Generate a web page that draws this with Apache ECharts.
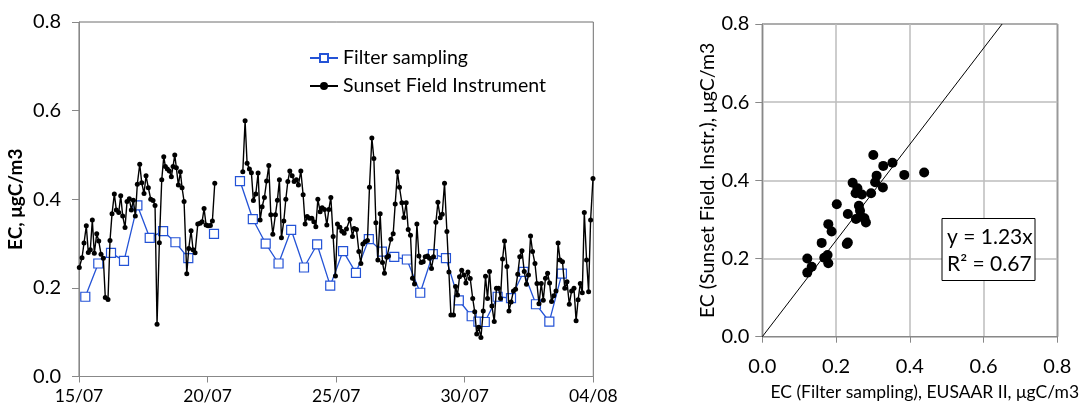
<!DOCTYPE html>
<html>
<head>
<meta charset="utf-8">
<script src="https://cdn.jsdelivr.net/npm/echarts@6/dist/echarts.min.js"></script>
<style>
html,body{margin:0;padding:0;background:#fff;}
#chart{width:1086px;height:412px;}
</style>
</head>
<body>
<div id="chart"></div>
<script>
// ---- Left panel: time series (x = days since 15/07) ----
const dateTickLabels = ['15/07', '20/07', '25/07', '30/07', '04/08'];
const yTickLabels = ['0.0', '0.2', '0.4', '0.6', '0.8'];

const filterDays = [0.245,0.75,1.245,1.75,2.27,2.75,3.27,3.75,4.25,4.75,5.25,5.75,6.26,6.76,7.26,7.76,8.25,8.75,9.26,9.77,10.27,10.77,11.27,11.78,12.26,12.75,13.27,13.76,14.27,14.77,15.27,15.53,15.78,16.28,16.8,17.29,17.77,18.29,18.78];
const filterEC = [0.180,0.255,0.279,0.261,0.386,0.313,0.328,0.303,0.267,null,0.322,null,0.441,0.355,0.300,0.255,0.331,0.246,0.298,0.205,0.283,0.234,0.310,0.282,0.270,0.264,0.189,0.276,0.267,0.172,0.136,0.124,0.123,0.180,0.177,0.236,0.163,0.124,0.232];

const sunsetDays = [
0.012,0.117,0.195,0.284,0.362,0.440,0.518,0.595,0.689,0.767,
0.856,0.946,1.023,1.128,1.206,1.284,1.374,1.451,1.545,1.623,
1.700,1.790,1.868,1.957,2.035,2.113,2.191,2.268,2.362,2.440,
2.529,2.607,2.696,2.790,2.879,2.957,3.035,3.125,3.218,3.296,
3.358,3.436,3.514,3.591,3.658,3.724,3.786,3.864,3.942,4.008,
4.086,4.191,4.268,4.358,4.436,4.514,4.619,4.708,4.786,4.864,
4.942,5.019,5.109,5.187,5.280,
5.800,
6.370,6.459,6.537,6.627,6.704,6.782,6.875,6.965,7.043,7.121,
7.210,7.296,7.381,7.459,7.537,7.638,7.716,7.794,7.872,7.965,
8.043,8.121,8.198,8.288,8.366,8.455,8.533,8.626,8.716,8.794,
8.872,8.961,9.054,9.132,9.210,9.288,9.377,9.455,9.545,9.638,
9.716,9.794,9.883,9.973,10.051,10.144,10.222,10.311,10.401,10.533,
10.634,10.700,10.790,10.883,10.961,11.039,11.128,11.218,11.296,11.389,
11.467,11.545,11.623,11.712,11.802,11.879,11.973,12.035,12.128,12.218,
12.296,12.385,12.463,12.556,12.634,12.724,12.802,12.891,12.969,13.047,
13.140,13.218,13.307,13.385,13.463,13.553,13.630,13.708,13.786,13.879,
13.957,14.047,14.125,14.214,14.307,14.385,14.463,14.564,14.642,14.720,
14.798,14.883,14.969,15.047,15.125,15.214,15.311,15.389,15.467,15.545,
15.630,15.720,15.809,15.887,15.965,16.058,16.148,16.233,16.315,16.393,
16.471,16.549,16.642,16.720,16.802,16.895,16.977,17.062,17.140,17.226,
17.315,17.401,17.479,17.560,17.638,17.732,17.809,17.887,17.977,18.054,
18.140,18.222,18.300,18.377,18.463,18.549,18.630,18.708,18.802,18.891,
18.977,19.066,19.156,19.249,19.331,19.409,19.494,19.572,19.650,19.739,
19.817,19.895,19.988];
const sunsetEC = [
0.246,0.268,0.301,0.340,0.280,0.286,0.353,0.278,0.322,0.306,
0.276,0.267,0.178,0.174,0.307,0.367,0.412,0.376,0.370,0.408,
0.362,0.336,0.395,0.401,0.376,0.398,0.362,0.434,0.479,0.437,
0.413,0.453,0.426,0.400,0.397,0.386,0.118,0.302,0.444,0.496,
0.474,0.468,0.464,0.451,0.474,0.500,0.471,0.432,0.462,0.426,
0.395,0.232,0.289,0.329,0.286,0.279,0.344,0.346,0.349,0.379,
0.342,0.340,0.341,0.351,0.436,
null,
0.462,0.577,0.481,0.468,0.460,0.397,0.412,0.459,0.353,0.383,
0.404,0.441,0.476,0.365,0.321,0.365,0.398,0.444,0.313,0.351,
0.400,0.440,0.464,0.453,0.440,0.444,0.432,0.464,0.410,0.344,
0.361,0.357,0.357,0.349,0.338,0.400,0.372,0.381,0.377,0.342,
0.377,0.404,0.316,0.227,0.344,0.337,0.328,0.323,0.333,0.355,
0.316,0.334,0.332,0.282,0.255,0.299,0.304,0.307,0.427,0.538,
0.492,0.347,0.263,0.367,0.257,0.233,0.269,0.272,0.310,0.322,
0.389,0.462,0.427,0.392,0.359,0.392,0.332,0.319,0.222,0.209,
0.344,0.272,0.257,0.259,0.270,0.272,0.267,0.244,0.270,0.348,
0.393,0.358,0.366,0.436,0.327,0.236,0.139,0.139,0.203,0.184,
0.225,0.240,0.229,0.211,0.236,0.221,0.176,0.146,0.096,0.111,
0.088,0.148,0.226,0.176,0.237,0.159,0.124,0.199,0.199,0.176,
0.265,0.306,0.248,0.148,0.168,0.193,0.197,0.231,0.270,0.284,
0.237,0.208,0.229,0.317,0.282,0.255,0.210,0.164,0.210,0.172,
0.222,0.233,0.211,0.169,0.182,0.193,0.301,0.263,0.259,0.199,
0.214,0.163,0.193,0.199,0.126,0.173,0.210,0.189,0.370,0.263,
0.191,0.353,0.447];

// ---- Right panel: scatter ----
const scatterFilter = [0.301,0.328,0.353,0.385,0.439,0.310,0.306,0.327,0.295,0.245,0.258,0.253,0.270,0.202,0.262,0.265,0.232,0.254,0.277,0.281,0.268,0.179,0.188,0.161,0.232,0.229,0.177,0.168,0.122,0.179,0.134,0.122];
const scatterSunset = [0.465,0.437,0.445,0.414,0.420,0.412,0.395,0.382,0.367,0.394,0.380,0.367,0.364,0.339,0.335,0.322,0.314,0.301,0.303,0.292,0.307,0.288,0.269,0.240,0.241,0.237,0.209,0.202,0.200,0.188,0.179,0.164];
const fitSlope = 1.23;
const fitR2 = 0.67;
const scatterTickLabels = ['0.0', '0.2', '0.4', '0.6', '0.8'];

const FONT = 'Lato';
const BLUE = '#2453d6';

const zip = (xs, ys) => xs.map((x, i) => [x, ys[i] == null ? '-' : ys[i]]);

const chart = echarts.init(document.getElementById('chart'), null, {renderer: 'canvas'});

const option = {
  animation: false,
  backgroundColor: '#fff',
  textStyle: {fontFamily: FONT, color: '#000'},
  grid: [
    {left: 79, right: 492.7, top: 22, bottom: 35.5, show: true, borderColor: '#6e6e6e', borderWidth: 1},
    {left: 762.3, right: 28.7, top: 24, bottom: 75.3, show: true, borderColor: '#000', borderWidth: 1}
  ],
  legend: {
    data: ['Filter sampling', 'Sunset Field Instrument'],
    orient: 'vertical',
    left: 304,
    top: 43,
    itemWidth: 28,
    itemHeight: 10,
    itemGap: 8,
    textStyle: {fontFamily: FONT, fontSize: 19.5, color: '#000'}
  },
  xAxis: [
    {
      gridIndex: 0, type: 'value', min: 0, max: 20, interval: 5,
      axisLine: {lineStyle: {color: '#888', width: 1}},
      axisTick: {show: true, inside: false, length: 6, lineStyle: {color: '#888'}},
      splitLine: {show: false},
      axisLabel: {fontFamily: FONT, fontSize: 17.5, color: '#000', margin: 11,
        formatter: v => dateTickLabels[Math.round(v / 5)]}
    },
    {
      gridIndex: 1, type: 'value', min: 0, max: 0.8, interval: 0.2,
      axisLine: {lineStyle: {color: '#888'}},
      axisTick: {show: true, length: 6, lineStyle: {color: '#888'}},
      splitLine: {show: true, lineStyle: {color: '#bdbdbd', width: 1.5}},
      axisLabel: {fontFamily: FONT, fontSize: 20, color: '#000', margin: 20,
        formatter: v => scatterTickLabels[Math.round(v / 0.2)]},
      name: 'EC (Filter sampling), EUSAAR II, μgC/m3',
      nameLocation: 'middle', nameGap: 47,
      nameTextStyle: {fontFamily: FONT, fontSize: 17.5, color: '#000', padding: [0, 0, 0, 30]}
    }
  ],
  yAxis: [
    {
      gridIndex: 0, type: 'value', min: 0, max: 0.8, interval: 0.2,
      axisLine: {show: true, lineStyle: {color: '#888'}},
      axisTick: {show: true, length: 7, lineStyle: {color: '#888'}},
      splitLine: {show: false},
      axisLabel: {fontFamily: FONT, fontSize: 20, color: '#000', margin: 18,
        formatter: v => yTickLabels[Math.round(v / 0.2)]},
      name: 'EC, μgC/m3',
      nameLocation: 'middle', nameGap: 54,
      nameTextStyle: {fontFamily: FONT, fontSize: 19, fontWeight: 'bold', color: '#000'}
    },
    {
      gridIndex: 1, type: 'value', min: 0, max: 0.8, interval: 0.2,
      axisLine: {show: true, lineStyle: {color: '#888'}},
      axisTick: {show: true, length: 7, lineStyle: {color: '#888'}},
      splitLine: {show: true, lineStyle: {color: '#bdbdbd', width: 1.5}},
      axisLabel: {fontFamily: FONT, fontSize: 20, color: '#000', margin: 13,
        formatter: v => scatterTickLabels[Math.round(v / 0.2)]},
      name: 'EC (Sunset Field. Instr.), μgC/m3',
      nameLocation: 'middle', nameGap: 37,
      nameTextStyle: {fontFamily: FONT, fontSize: 19.5, color: '#000'}
    }
  ],
  series: [
    {
      name: 'Filter sampling', type: 'line', xAxisIndex: 0, yAxisIndex: 0,
      data: zip(filterDays, filterEC),
      symbol: 'rect', symbolSize: 9, showAllSymbol: true, connectNulls: false,
      lineStyle: {color: BLUE, width: 1.3},
      itemStyle: {color: '#fff', borderColor: BLUE, borderWidth: 1.2},
      z: 3
    },
    {
      name: 'Sunset Field Instrument', type: 'line', xAxisIndex: 0, yAxisIndex: 0,
      data: zip(sunsetDays, sunsetEC),
      symbol: 'circle', symbolSize: 5, showAllSymbol: true, connectNulls: false,
      lineStyle: {color: '#000', width: 1.4},
      itemStyle: {color: '#000'},
      z: 4
    },
    {
      name: 'scatter', type: 'scatter', xAxisIndex: 1, yAxisIndex: 1,
      data: zip(scatterFilter, scatterSunset),
      symbol: 'circle', symbolSize: 10,
      itemStyle: {color: '#000', opacity: 1},
      z: 3
    },
    {
      name: 'fit', type: 'line', xAxisIndex: 1, yAxisIndex: 1,
      data: [[0, 0], [0.8 / fitSlope, 0.8]],
      symbol: 'none', lineStyle: {color: '#000', width: 1},
      z: 2
    }
  ],
  graphic: [
    {
      type: 'group', left: 941.5, top: 218, z: 100,
      children: [
        {type: 'rect', z: 100, shape: {x: 0, y: 0, width: 93, height: 62},
          style: {fill: '#fff', stroke: '#000', lineWidth: 1}},
        {type: 'text', z: 101, x: 5, y: 5,
          style: {text: 'y = ' + fitSlope.toFixed(2) + 'x\nR² = ' + fitR2.toFixed(2),
            fontFamily: FONT, fontSize: 21, lineHeight: 27, fill: '#000'}}
      ]
    }
  ]
};

chart.setOption(option);
</script>
</body>
</html>
